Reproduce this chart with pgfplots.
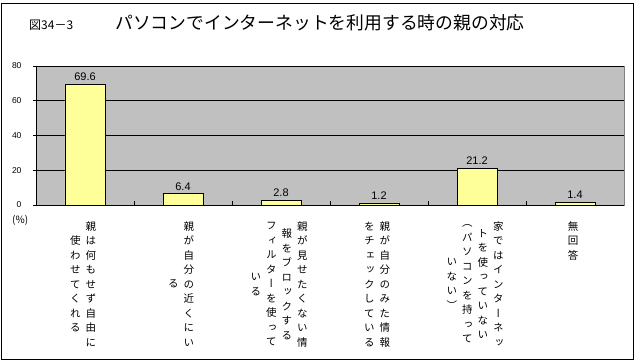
\documentclass[border=0pt]{standalone}
\usepackage{fontspec}
\setmainfont{Liberation Sans}
\newfontfamily\jp{Noto Sans CJK JP}
\newfontfamily\jpv[RawFeature=+vert]{Noto Sans CJK JP}
\usepackage{pgfplots}
\pgfplotsset{compat=1.18}
\definecolor{plotgray}{HTML}{C0C0C0}
\definecolor{edgegray}{HTML}{808080}
\definecolor{baryellow}{HTML}{FFFF99}
\makeatletter
\def\vc@loop#1{\ifx\relax#1\else\hbox to 15.5pt{\hss#1\hss}\expandafter\vc@loop\fi}
\newcommand\vcol[1]{$\vcenter{\baselineskip=14.5pt\lineskip=0pt\lineskiplimit=-20pt\vc@loop#1\relax}$}
\makeatother
\newcommand\lab[1]{\hbox{\jpv\fontsize{10.5}{14.5}\selectfont #1}}
\newcommand\labA{\lab{\vcol{使わせてくれる}\vcol{親は何もせず自由に}}}
\newcommand\labB{\lab{\vcol{る}\vcol{親が自分の近くにい}}}
\newcommand\labC{\lab{\vcol{いる}\vcol{フィルターを使って}\vcol{報をブロックする}\vcol{親が見せたくない情}}}
\newcommand\labD{\lab{\vcol{をチェックしている}\vcol{親が自分のみた情報}}}
\newcommand\labE{\lab{\vcol{いない）}\vcol{（パソコンを持って}\vcol{トを使っていない}\vcol{家ではインターネッ}}}
\newcommand\labF{\lab{\vcol{無回答}}}
\begin{document}
\begin{tikzpicture}
\useasboundingbox (0pt,0pt) rectangle (637pt,361pt);
\draw[black, line width=0.8pt] (1.5pt,2pt) rectangle (633.5pt,358pt);
\node[anchor=base west, inner sep=0pt] at (29pt,331pt) {\jp\fontsize{12}{12}\selectfont 図34－3};
\node[anchor=base west, inner sep=0pt] at (115pt,331pt) {\jp\fontsize{17.8}{17.8}\selectfont パソコンでインターネットを利用する時の親の対応};
\node[anchor=base west, inner sep=0pt] at (12pt,137pt) {\jp\fontsize{10}{10}\selectfont (\%)};
\begin{axis}[
  at={(36pt,156pt)}, anchor=south west,
  scale only axis, width=588pt, height=139pt,
  xmin=-0.5, xmax=5.5, ymin=0, ymax=80,
  axis background/.style={fill=plotgray, draw=edgegray},
  axis x line*=bottom, axis y line*=left,
  axis line style={black, -, line width=0.8pt},
  ytick={0,20,40,60,80},
  ymajorgrids, grid style={black, line width=0.8pt},
  tick align=outside,
  major tick length=3pt,
  tick style={black, line width=0.8pt},
  yticklabel style={font=\fontsize{8.5}{8.5}\selectfont, anchor=east, xshift=-8pt},
  /pgf/number format/assume math mode=true,
  xtick={0,1,2,3,4,5},
  xticklabels={\labA,\labB,\labC,\labD,\labE,\labF},
  major x tick style={draw=none},
  minor xtick={0.5,1.5,2.5,3.5,4.5},
  minor tick length=3.5pt,
  minor x tick style={yshift=3.5pt, black, line width=0.8pt},
  xticklabel style={anchor=north, yshift=-10pt, xshift=-2pt},
  ybar, bar width=40pt,
  nodes near coords,
  nodes near coords style={font=\fontsize{11}{11}\selectfont, /pgf/number format/fixed, /pgf/number format/precision=1, /pgf/number format/fixed zerofill},
  clip=false,
]
\addplot[fill=baryellow, draw=black, line width=0.8pt] coordinates {(0,69.6) (1,6.4) (2,2.8) (3,1.2) (4,21.2) (5,1.4)};
\end{axis}
\end{tikzpicture}
\end{document}
